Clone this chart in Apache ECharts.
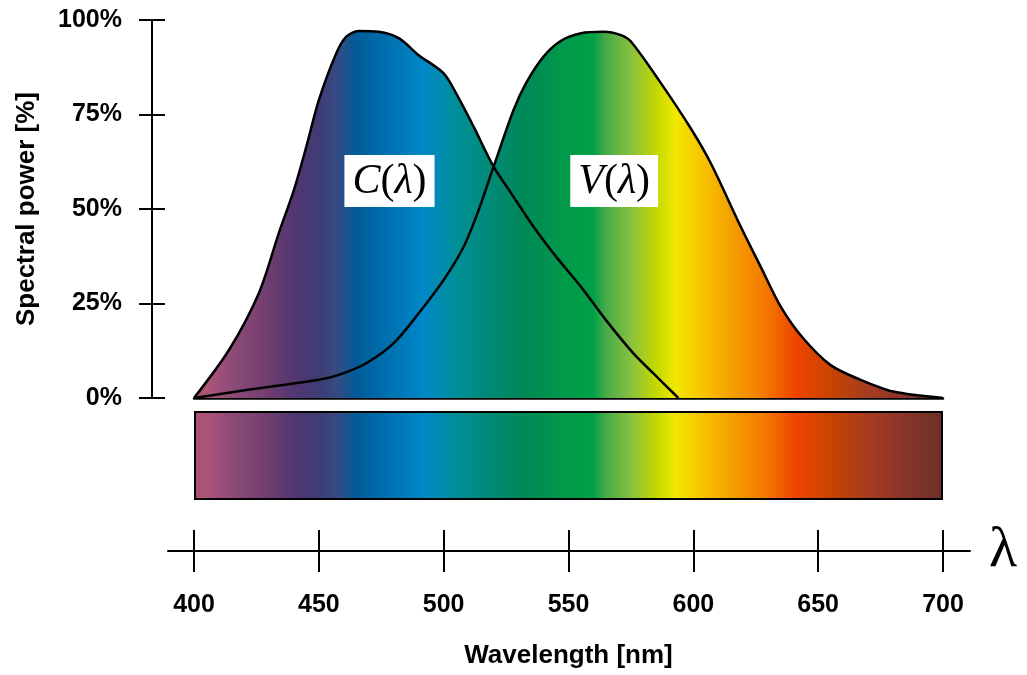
<!DOCTYPE html>
<html><head><meta charset="utf-8">
<script src="https://cdn.jsdelivr.net/npm/echarts@6/dist/echarts.min.js"></script>
<style>html,body{margin:0;padding:0;background:#fff}#c{width:1027px;height:675px}</style>
</head><body><div id="c"></div>
<script>
// ---- data ----
const xTicks = [400, 450, 500, 550, 600, 650, 700];
const yTicks = [0, 25, 50, 75, 100];
const cWavelengths = [400, 414, 426, 434, 440, 445, 450, 457, 461, 466, 474, 482, 490, 500, 505, 512, 520, 527, 536, 545, 555, 565, 576, 584, 594];
const cValues      = [0, 12.7, 27.8, 43.7, 55, 66.5, 78.8, 91.2, 95.6, 97.1, 96.9, 95.2, 90.7, 85.9, 80.6, 71.8, 61.2, 54.2, 45.3, 37.4, 29.4, 20.6, 11.8, 6.5, 0];
const vWavelengths = [400, 421, 450, 458, 469, 480, 490, 500, 508, 514, 520, 528, 533, 540, 547, 555, 564, 571, 575, 587, 599, 607, 619, 627, 635, 644, 655, 667, 680, 700];
const vValues      = [0, 2.1, 4.8, 6.1, 9.2, 14.5, 22.4, 31.2, 40, 49.7, 61.2, 76.2, 83.3, 90.3, 94.5, 96.5, 96.9, 96, 94.3, 83.3, 71.3, 62.1, 45.3, 34.7, 24.2, 15.8, 8.7, 4.8, 1.7, 0];
const labelNames = ['C', 'V'];
const labelWavelengths = [478.3, 568.3];
const labelValues = [57.4, 57.4];
const spectrumBand = [1];

// ---- style: spectrum colour stops ----
const spectrumStops = [
  [400, '#a65078'], [405, '#ad5479'], [415, '#8e4b78'], [428, '#743f70'], [440, '#523672'],
  [450, '#413b74'], [458, '#344c84'], [465, '#005c98'], [480, '#0074b4'], [492, '#0088c8'],
  [505, '#008f98'], [517, '#008a7a'], [532, '#008858'], [548, '#009a4a'], [560, '#00a048'],
  [565, '#48aa48'], [575, '#88c040'], [585, '#c2d800'], [593, '#f2e800'], [602, '#f8c800'],
  [615, '#f4a000'], [628, '#f47c00'], [641, '#f04400'], [655, '#c84400'], [670, '#a63c22'],
  [685, '#883428'], [700, '#6a3028']
];
const colorStops = spectrumStops.map(([w, c]) => ({offset: (w - 400) / 300, color: c}));
const globalGrad = {type: 'linear', x: 194, y: 0, x2: 943, y2: 0, global: true, colorStops};
const localGrad = {type: 'linear', x: 0, y: 0, x2: 1, y2: 0, colorStops};

const zip = (a, b) => a.map((v, i) => [v, b[i]]);
const cData = zip(cWavelengths, cValues);
const vData = zip(vWavelengths, vValues);

const SANS = 'Liberation Sans';
const SERIF = 'Liberation Serif';
const xMin = xTicks[0], xMax = xTicks[xTicks.length - 1], xInt = xTicks[1] - xTicks[0];
const yMin = yTicks[0], yMax = yTicks[yTicks.length - 1], yInt = yTicks[1] - yTicks[0];
const black = {color: '#000', width: 2};

const hiddenY = (g) => ({gridIndex: g, type: 'value', min: 0, max: 1, show: false});

const SMOOTH = 0.3;
const option = {
  animation: false,
  grid: [
    {left: 194, width: 749, top: 20, height: 378},
    {left: 194, width: 749, top: 20, height: 378},
    {left: 194, width: 749, top: 411, height: 89},
    {left: 194, width: 749, top: 500, height: 51},
    {left: 194, width: 749, top: 500, height: 51},
    {left: 168, width: 802, top: 500, height: 51}
  ],
  xAxis: [
    {gridIndex: 0, type: 'value', min: xMin, max: xMax,
     axisLine: {show: true, onZero: false, lineStyle: {color: '#000', width: 2.5}},
     axisTick: {show: false}, axisLabel: {show: false}, splitLine: {show: false}},
    {gridIndex: 1, type: 'value', min: xMin, max: xMax, show: false},
    {gridIndex: 2, type: 'category', data: ['band'], show: false},
    {gridIndex: 3, type: 'value', min: xMin, max: xMax, interval: xInt, position: 'bottom',
     axisLine: {show: false, onZero: false},
     axisTick: {show: true, length: 21, lineStyle: black},
     axisLabel: {show: true, margin: 42, fontSize: 25, fontWeight: 'bold', fontFamily: SANS, color: '#000',
                 showMinLabel: true, showMaxLabel: true},
     splitLine: {show: false}},
    {gridIndex: 4, type: 'value', min: xMin, max: xMax, interval: xInt, position: 'bottom',
     axisLine: {show: false, onZero: false},
     axisTick: {show: true, inside: true, length: 21, lineStyle: black},
     axisLabel: {show: false}, splitLine: {show: false},
     name: 'Wavelength [nm]', nameLocation: 'middle', nameGap: 92,
     nameTextStyle: {fontSize: 26, fontWeight: 'bold', fontFamily: SANS, color: '#000'}},
    {gridIndex: 5, type: 'value', min: 0, max: 1, position: 'bottom',
     axisLine: {show: true, onZero: false, lineStyle: black},
     axisTick: {show: false}, axisLabel: {show: false}, splitLine: {show: false},
     name: 'λ', nameLocation: 'end', nameGap: 19,
     nameTextStyle: {fontSize: 58, fontFamily: SERIF, color: '#000', verticalAlign: 'middle', padding: [0, 0, 10, 0]}}
  ],
  yAxis: [
    {gridIndex: 0, type: 'value', min: yMin, max: yMax, interval: yInt, position: 'left', offset: 42,
     axisLine: {show: true, lineStyle: black},
     axisTick: {show: true, length: 13, lineStyle: black},
     axisLabel: {show: true, margin: 30, formatter: '{value}%', fontSize: 25, fontWeight: 'bold', fontFamily: SANS, color: '#000'},
     splitLine: {show: false},
     name: 'Spectral power [%]', nameLocation: 'middle', nameGap: 112, nameRotate: 90,
     nameTextStyle: {fontSize: 26, fontWeight: 'bold', fontFamily: SANS, color: '#000'}},
    {gridIndex: 1, type: 'value', min: yMin, max: yMax, interval: yInt, position: 'left', offset: 42,
     axisLine: {show: false},
     axisTick: {show: true, inside: true, length: 13, lineStyle: black},
     axisLabel: {show: false}, splitLine: {show: false}},
    hiddenY(2), hiddenY(3), hiddenY(4), hiddenY(5)
  ],
  series: [
    {type: 'bar', xAxisIndex: 2, yAxisIndex: 2, data: spectrumBand, barWidth: '100%',
     itemStyle: {color: localGrad, borderColor: '#000', borderWidth: 2}, silent: true},
    {type: 'line', xAxisIndex: 0, yAxisIndex: 0, data: vData, smooth: SMOOTH, symbol: 'none',
     lineStyle: {width: 0}, areaStyle: {color: globalGrad, opacity: 1}, z: 2, silent: true},
    {type: 'line', xAxisIndex: 0, yAxisIndex: 0, data: cData, smooth: SMOOTH, symbol: 'none',
     lineStyle: {width: 0}, areaStyle: {color: globalGrad, opacity: 1}, z: 2, silent: true},
    {type: 'line', xAxisIndex: 0, yAxisIndex: 0, data: vData, smooth: SMOOTH, symbol: 'none',
     lineStyle: {color: '#000', width: 2.5}, z: 3, silent: true},
    {type: 'line', xAxisIndex: 0, yAxisIndex: 0, data: cData, smooth: SMOOTH, symbol: 'none',
     lineStyle: {color: '#000', width: 2.5}, z: 3, silent: true},
    {type: 'scatter', xAxisIndex: 0, yAxisIndex: 0, z: 6, silent: true,
     symbolSize: 1, itemStyle: {color: 'rgba(0,0,0,0)', opacity: 1},
     data: labelNames.map((n, i) => ({name: n, value: [labelWavelengths[i], labelValues[i]]})),
     label: {show: true, position: 'inside', opacity: 1,
       formatter: p => '{i|' + p.name + '}{n|(}{i|λ}{n|)}',
       backgroundColor: '#ffffff', padding: [5, 8, 3, 8],
       rich: {
         i: {fontFamily: SERIF, fontStyle: 'italic', fontSize: 42, color: '#000', lineHeight: 44},
         n: {fontFamily: SERIF, fontSize: 42, color: '#000', lineHeight: 44}
       }}}
  ]
};
echarts.init(document.getElementById('c'), null, {renderer: 'canvas'}).setOption(option);
</script>
</body></html>
